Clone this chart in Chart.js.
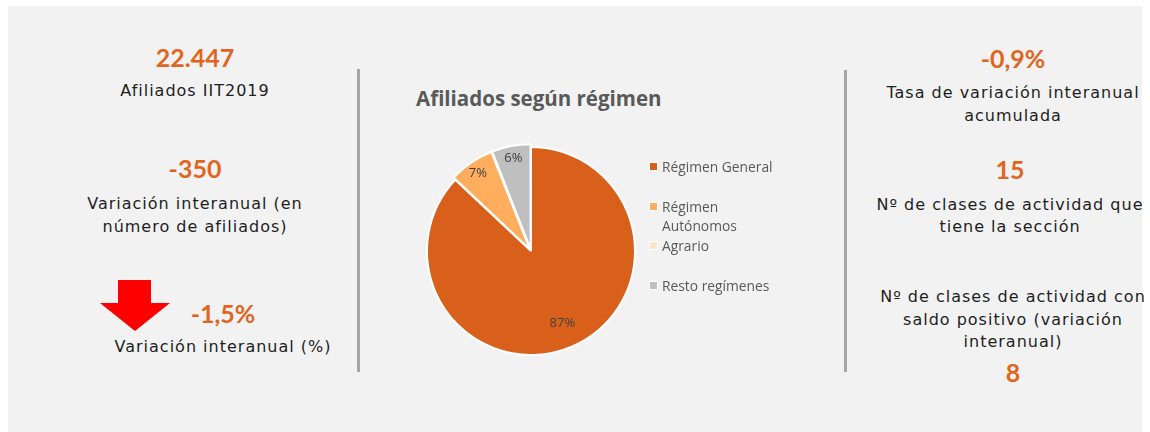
<!DOCTYPE html>
<html>
<head>
<meta charset="utf-8">
<script src="https://cdn.jsdelivr.net/npm/chart.js@4.4.1/dist/chart.umd.min.js"></script>
<style>
  html, body { margin: 0; padding: 0; background: #ffffff; width: 1150px; height: 432px; overflow: hidden; }
  #panel { position: absolute; left: 8px; top: 6px; width: 1134px; height: 426px; background: #f2f2f2; }
  .t { position: absolute; white-space: nowrap; transform: translate(-50%, -50%); line-height: 1; }
  .num { font-family: Lato, "Open Sans", sans-serif; font-weight: 700; font-size: 25px; color: #E0651F; }
  .lab { font-family: "DejaVu Sans", Lato, sans-serif; font-size: 16px; letter-spacing: 1px; color: #1e1e1e; }
  .vline { position: absolute; width: 3px; background: #a6a6a6; }
  #title { position: absolute; left: 416px; top: 89px; transform: translateY(-1px); font-family: "Open Sans", Lato, sans-serif; font-weight: 700; font-size: 20.5px; color: #595959; white-space: nowrap; line-height: 1; }
  #pieWrap { position: absolute; left: 401px; top: 121px; width: 260px; height: 260px; }
  #legend { position: absolute; left: 649px; top: 0; font-family: "Open Sans", Lato, sans-serif; font-size: 13.8px; color: #595959; }
  .li { position: absolute; left: 0; white-space: nowrap; }
  .li .box { position: absolute; left: 0; width: 7px; height: 7px; border: 1px solid #fff; }
  .li .txt { position: absolute; left: 13px; line-height: 19px; }
</style>
</head>
<body>
<div id="panel"></div>
<div class="vline" style="left:357px; top:69px; height:303px;"></div>
<div class="vline" style="left:844px; top:70px; height:302px;"></div>
<div id="texts"></div>
<svg style="position:absolute; left:0; top:0;" width="1150" height="432">
  <polygon points="118,280 151,280 151,303 170,303 135,331 100,303 118,303" fill="#ff0000"/>
</svg>
<div id="title">Afiliados según régimen</div>
<div id="pieWrap"><canvas id="pie" width="260" height="260"></canvas></div>
<div id="legend"></div>
<script>
// ---- data ----
const categories = ['Régimen General', 'Régimen Autónomos', 'Agrario', 'Resto regímenes'];
const legendLines = [['Régimen General'], ['Régimen', 'Autónomos'], ['Agrario'], ['Resto regímenes']];
const shares = [87, 7, 0, 6];
const sliceColors = ['#D9601A', '#FFAE5E', '#FDE3CC', '#BFBFBF'];
const sliceOffsets = [0, 7, 7, 7];

const kpiNumbers = ['22.447', '-350', '-1,5%', '-0,9%', '15', '8'];
const kpiLabels = [
  ['Afiliados IIT2019'],
  ['Variación interanual (en', 'número de afiliados)'],
  ['Variación interanual (%)'],
  ['Tasa de variación interanual', 'acumulada'],
  ['Nº de clases de actividad que', 'tiene la sección'],
  ['Nº de clases de actividad con', 'saldo positivo (variación', 'interanual)']
];

// ---- layout of text blocks ----
const numPos = [[195, 57], [195, 168], [223, 313], [1013, 58], [1010, 169], [1013, 372]];
const labPos = [[195, 91, 0], [195, 204, 23], [223, 347, 0], [1013, 93, 23], [1010, 205, 22], [1013, 297, 22.5]];

const texts = document.getElementById('texts');
kpiNumbers.forEach((n, i) => {
  const d = document.createElement('div');
  d.className = 't num';
  d.style.left = numPos[i][0] + 'px';
  d.style.top = numPos[i][1] + 'px';
  d.textContent = n;
  texts.appendChild(d);
});
kpiLabels.forEach((lines, i) => {
  lines.forEach((ln, j) => {
    const d = document.createElement('div');
    d.className = 't lab';
    d.style.left = labPos[i][0] + 'px';
    d.style.top = (labPos[i][1] + j * labPos[i][2]) + 'px';
    d.textContent = ln;
    texts.appendChild(d);
  });
});

// ---- legend ----
const legendY = [166, 206, 245, 285];
const lg = document.getElementById('legend');
legendLines.forEach((lines, i) => {
  const item = document.createElement('div');
  item.className = 'li';
  item.style.top = (legendY[i] - 9.5) + 'px';
  const box = document.createElement('div');
  box.className = 'box';
  box.style.background = sliceColors[i];
  box.style.top = '5px';
  const txt = document.createElement('div');
  txt.className = 'txt';
  txt.innerHTML = lines.join('<br>');
  item.appendChild(box);
  item.appendChild(txt);
  lg.appendChild(item);
});

// ---- percent labels plugin ----
const pctLabels = {
  id: 'pctLabels',
  afterDatasetsDraw(chart) {
    const ctx = chart.ctx;
    const meta = chart.getDatasetMeta(0);
    const data = chart.data.datasets[0].data;
    const total = data.reduce((a, b) => a + b, 0);
    ctx.save();
    ctx.font = '13px "Open Sans", Lato, sans-serif';
    ctx.fillStyle = '#404040';
    ctx.textAlign = 'center';
    ctx.textBaseline = 'middle';
    meta.data.forEach((arc, i) => {
      const v = data[i];
      if (!v) return;
      const p = arc.getProps(['x', 'y', 'startAngle', 'endAngle', 'outerRadius'], true);
      const mid = (p.startAngle + p.endAngle) / 2;
      const f = v / total > 0.5 ? 0.76 : 0.84;
      const off = sliceOffsets[i];
      const r = p.outerRadius * f + off;
      const x = p.x + Math.cos(mid) * r;
      const y = p.y + Math.sin(mid) * r;
      ctx.fillText(Math.round(v / total * 100) + '%', x, y);
    });
    ctx.restore();
  }
};

new Chart(document.getElementById('pie'), {
  type: 'pie',
  data: {
    labels: categories,
    datasets: [{
      data: shares,
      backgroundColor: sliceColors,
      borderColor: '#ffffff',
      borderWidth: 2,
      offset: sliceOffsets,
      radius: 104
    }]
  },
  options: {
    responsive: false,
    animation: false,
    layout: { padding: 0 },
    plugins: {
      legend: { display: false },
      tooltip: { enabled: false },
      title: { display: false }
    }
  },
  plugins: [pctLabels]
});
</script>
</body>
</html>
